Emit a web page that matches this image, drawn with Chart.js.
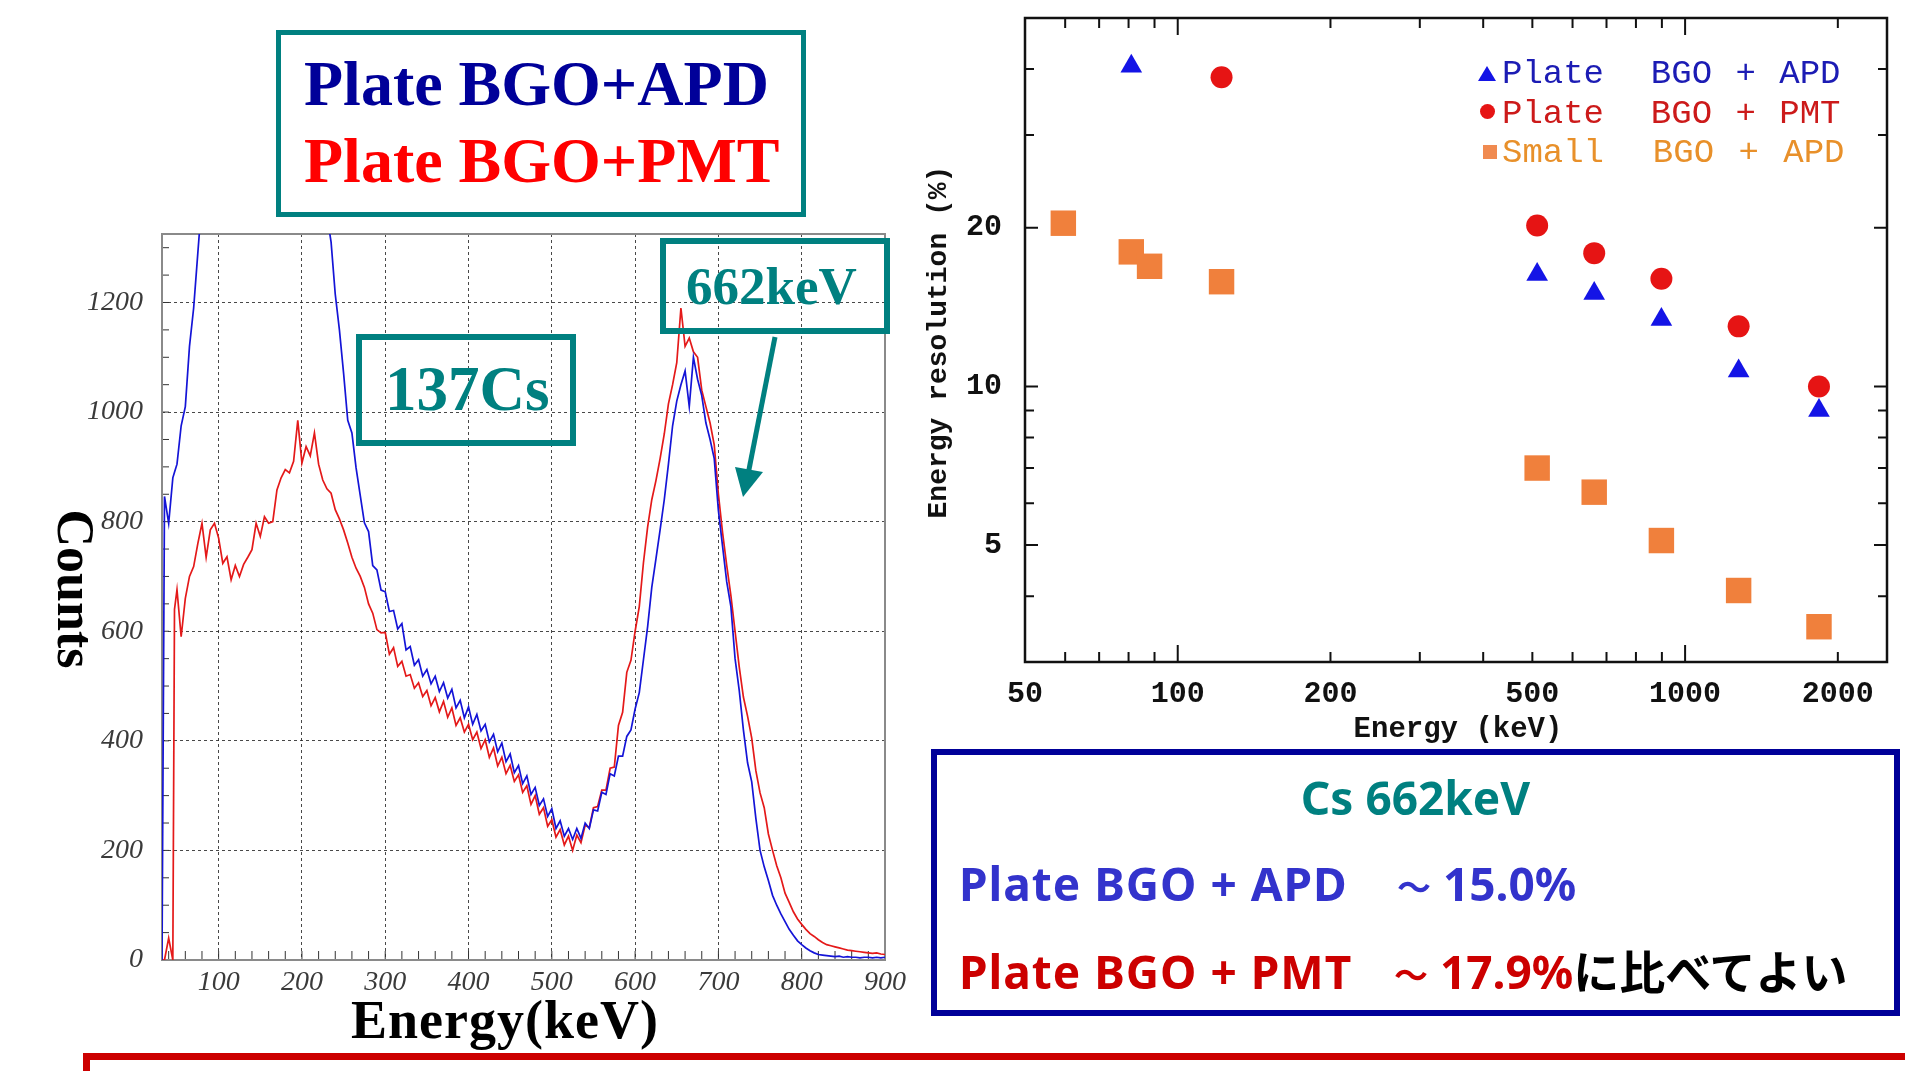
<!DOCTYPE html>
<html><head><meta charset="utf-8">
<script src="https://cdn.jsdelivr.net/npm/chart.js@4.4.1/dist/chart.umd.min.js"></script>
<style>
html,body{margin:0;padding:0;background:#fff;}
body{width:1905px;height:1071px;overflow:hidden;position:relative;}
.abs{position:absolute;white-space:nowrap;}
.pre{position:absolute;white-space:pre;}
.box{position:absolute;box-sizing:border-box;}
.tl{font-size:34px;vertical-align:1px;margin-right:12px;}
</style></head><body>
<div class="abs" style="left:60px;top:200px;width:880px;height:830px;"><canvas id="spec"></canvas></div>
<div class="abs" style="left:940px;top:0px;width:965px;height:740px;"><canvas id="res"></canvas></div>

<!-- left title box -->
<div class="box" style="left:276px;top:30px;width:530px;height:187px;border:5px solid #008080;"></div>
<div class="abs" style="left:304px;top:52px;font:bold 64px/64px 'Liberation Serif';color:#000099;">Plate BGO+APD</div>
<div class="abs" style="left:304px;top:129px;font:bold 64px/64px 'Liberation Serif';color:#ff0000;">Plate BGO+PMT</div>

<!-- 137Cs box -->
<div class="box" style="left:356px;top:334px;width:220px;height:112px;border:6px solid #008080;"></div>
<div class="abs" style="left:385px;top:358px;font:bold 63px/63px 'Liberation Serif';color:#008080;">137Cs</div>

<!-- 662keV box -->
<div class="box" style="left:660px;top:238px;width:230px;height:96px;border:6px solid #008080;"></div>
<div class="abs" style="left:686px;top:260px;font:bold 53px/53px 'Liberation Serif';color:#008080;">662keV</div>

<svg class="abs" style="left:0;top:0;pointer-events:none" width="1905" height="1071">
<line x1="775" y1="337" x2="748.5" y2="472" stroke="#008080" stroke-width="5"/>
<polygon points="743,497 763,472 735,467" fill="#008080"/>
</svg>

<div class="abs" style="left:-5px;top:563px;width:160px;text-align:center;font:bold 52px/52px 'Liberation Serif';color:#000;transform:rotate(90deg);">Counts</div>
<div class="abs" style="left:305px;top:993px;width:400px;text-align:center;font:bold 54px/54px 'Liberation Serif';color:#000;letter-spacing:1px;">Energy(keV)</div>

<!-- right chart titles & legend -->
<div class="abs" style="left:739px;top:328px;width:400px;text-align:center;font:bold 28px/28px 'Liberation Mono';color:#111;transform:rotate(-90deg);">Energy resolution (%)</div>
<div class="abs" style="left:1258px;top:715px;width:400px;text-align:center;font:bold 29px/29px 'Liberation Mono';color:#111;">Energy (keV)</div>

<div class="abs" style="left:1478px;top:66px;width:0;height:0;border-left:9px solid transparent;border-right:9px solid transparent;border-bottom:15px solid #1414e6;"></div>
<div class="abs" style="left:1480px;top:104px;width:15px;height:15px;border-radius:50%;background:#e61414;"></div>
<div class="abs" style="left:1483px;top:145px;width:14px;height:14px;background:#f08a50;"></div>
<div class="pre" style="left:1502px;top:57px;font:34px/34px 'Liberation Mono';word-spacing:3px;color:#1c1cb4;">Plate  BGO + APD</div>
<div class="pre" style="left:1502px;top:97px;font:34px/34px 'Liberation Mono';word-spacing:3px;color:#cc1a1a;">Plate  BGO + PMT</div>
<div class="pre" style="left:1502px;top:136px;font:34px/34px 'Liberation Mono';word-spacing:4px;color:#e8902a;">Small  BGO + APD</div>

<!-- bottom right summary box -->
<div class="box" style="left:931px;top:749px;width:969px;height:267px;border:6px solid #000099;"></div>
<div class="abs" style="left:931px;width:969px;top:774px;text-align:center;font:bold 46px/46px 'Noto Sans';color:#008080;">Cs 662keV</div>
<div class="abs" style="left:959px;top:860px;font:bold 46px/46px 'Noto Sans','Noto Sans CJK JP';color:#3333cc;"><span style="display:inline-block;width:438px;letter-spacing:1px;">Plate BGO + APD</span><span class="tl">～</span>15.0%</div>
<div class="abs" style="left:959px;top:946px;font:bold 46px/46px 'Noto Sans','Noto Sans CJK JP';color:#cc0000;"><span style="display:inline-block;width:435px;letter-spacing:1px;">Plate BGO + PMT</span><span class="tl">～</span>17.9%<span style="color:#000;font-family:'Noto Sans CJK JP';">に比べてよい</span></div>

<!-- bottom red frame -->
<div class="box" style="left:83px;top:1053px;width:2000px;height:200px;border:7px solid #cc0000;"></div>

<script>
// ---------- Left chart: 137Cs spectra ----------
const energyKeV = [32,35,40,45,47,
50,55,60,65,70,75,80,85,90,95,
100,105,110,115,120,125,130,135,140,145,
150,155,160,165,170,175,180,185,190,195,
200,205,210,215,220,225,230,235,240,245,
250,255,260,265,270,275,280,285,290,295,
300,305,310,315,320,325,330,335,340,345,
350,355,360,365,370,375,380,385,390,395,
400,405,410,415,420,425,430,435,440,445,
450,455,460,465,470,475,480,485,490,495,
500,505,510,515,520,525,530,535,540,545,
550,555,560,565,570,575,580,585,590,595,
600,605,610,615,620,625,630,635,640,645,
650,655,660,665,670,675,680,685,690,695,
700,705,710,715,720,725,730,735,740,745,
750,755,760,765,770,775,780,785,790,795,
800,805,810,815,820,825,830,835,840,845,
850,855,860,865,870,875,880,885,890,895,
900];
const countsAPD = [0,846,797,880,890,
905,975,1010,1120,1190,1290,1390,1520,1650,1780,
1900,1980,2050,2100,2140,2160,2170,2160,2140,2110,
2080,2040,2000,1960,1910,1860,1810,1760,1710,1660,
1620,1580,1540,1500,1450,1400,1360,1310,1215,1150,
1071,985,962,898,848,798,782,720,712,675,
672,636,638,604,614,566,572,538,548,518,
530,504,518,490,506,478,494,460,474,442,
462,430,448,418,430,398,412,380,396,362,
376,342,355,322,336,302,315,282,294,262,
276,240,254,226,240,220,240,222,250,240,
274,272,306,302,340,336,372,372,408,420,
458,488,548,608,680,732,785,840,905,975,
1020,1050,1075,1010,1100,1060,1030,980,950,915,
820,755,690,645,550,492,420,360,325,258,
200,170,145,118,100,84,70,56,45,35,
28,22,17,13,10,9,8,7,6,7,
5,6,5,5,4,5,5,4,5,4,
5];
const countsPMT = [0,0,40,0,640,
676,590,660,700,718,760,797,735,785,797,
770,724,736,694,720,700,722,735,749,797,
773,809,797,800,858,880,895,889,910,985,
907,937,920,962,905,876,860,852,822,805,
785,761,735,715,700,680,650,633,603,597,
598,558,570,536,545,518,521,496,506,481,
492,464,479,453,472,443,460,428,442,416,
430,402,416,386,402,370,387,354,370,340,
355,326,338,306,318,284,300,266,278,244,
256,224,238,210,226,200,228,214,246,242,
278,280,310,310,350,352,428,452,525,547,
600,645,725,790,840,875,915,960,1015,1050,
1090,1190,1120,1135,1110,1100,1040,1010,980,940,
850,780,720,665,600,535,480,445,405,345,
305,278,230,200,172,150,122,105,88,75,
65,56,48,43,37,32,28,26,24,22,
20,18,17,16,15,14,13,12,13,11,
10];
const energyTicks = [100,200,300,400,500,600,700,800,900];
const countTicks = [0,200,400,600,800,1000,1200];
const energyMinorTicks = [40,60,80,100,120,140,160,180,200,220,240,260,280,300,320,340,360,380,400,420,440,460,480,500,520,540,560,580,600,620,640,660,680,700,720,740,760,780,800,820,840,860,880];
const countMinorTicks = [50,100,150,200,250,300,350,400,450,500,550,600,650,700,750,800,850,900,950,1000,1050,1100,1150,1200,1250,1300];

// ---------- Right chart: energy resolution ----------
const apdEnergy = [81,511,662,898,1275,1836];
const apdRes = [40.5,16.3,15.0,13.4,10.7,9.0];
const pmtEnergy = [122,511,662,898,1275,1836];
const pmtRes = [38.6,20.2,17.9,16.0,13.0,10.0];
const smallEnergy = [59.5,81,88,122,511,662,898,1275,1836];
const smallRes = [20.4,18.0,16.9,15.8,7.0,6.3,5.1,4.1,3.5];
const resEnergyTicks = [50,100,200,500,1000,2000];
const resTicks = [5,10,20];
const resEnergyMinor = [60,70,80,90,200,300,400,500,600,700,800,900,2000];
const resEnergyMajor = [100,1000];
const resMinor = [4,6,7,8,9,30,40];
const resMajor = [5,10,20];

Chart.defaults.animation = false;

const noPad = s => { s.paddingTop = 0; s.paddingBottom = 0; s.paddingLeft = 0; s.paddingRight = 0; };

const specDecor = {
  id: 'specDecor',
  beforeDatasetsDraw(chart) {
    const {ctx, chartArea: a, scales: {x, y}} = chart;
    ctx.save();
    ctx.strokeStyle = '#333'; ctx.lineWidth = 1;
    ctx.beginPath();
    countMinorTicks.forEach(v => { const py = y.getPixelForValue(v); if (py < a.top) return; ctx.moveTo(a.left, py); ctx.lineTo(a.left + 7, py); });
    energyMinorTicks.forEach(v => { const px = x.getPixelForValue(v); ctx.moveTo(px, a.bottom); ctx.lineTo(px, a.bottom - 9); });
    ctx.stroke();
    ctx.lineWidth = 2; ctx.strokeStyle = '#8a8a8a';
    ctx.strokeRect(a.left, a.top, a.right - a.left, a.bottom - a.top);
    ctx.restore();
  }
};

new Chart(document.getElementById('spec'), {
  type: 'line',
  data: {
    datasets: [
      {label: 'Plate BGO+APD', data: energyKeV.map((e, i) => ({x: e, y: countsAPD[i]})), borderColor: 'rgb(20,20,215)', borderWidth: 1.7, pointRadius: 0, tension: 0},
      {label: 'Plate BGO+PMT', data: energyKeV.map((e, i) => ({x: e, y: countsPMT[i]})), borderColor: 'rgb(228,25,25)', borderWidth: 1.7, pointRadius: 0, tension: 0}
    ]
  },
  options: {
    responsive: true, maintainAspectRatio: false,
    layout: {padding: {top: 34, right: 55, left: 0, bottom: 0}},
    plugins: {legend: {display: false}, tooltip: {enabled: false}},
    scales: {
      x: {type: 'linear', min: 32, max: 900,
        afterBuildTicks: s => { s.ticks = energyTicks.map(v => ({value: v})); },
        afterFit: s => { s.height = 70; noPad(s); },
        grid: {color: 'rgba(40,40,40,0.85)', lineWidth: 1, drawTicks: false},
        border: {display: false, dash: [3, 3]},
        ticks: {callback: v => String(v), padding: 6, autoSkip: false, maxRotation: 0, color: '#3a3a3a', font: {family: 'Liberation Serif', style: 'italic', size: 28}}
      },
      y: {min: 0, max: 1325,
        afterBuildTicks: s => { s.ticks = countTicks.map(v => ({value: v})); },
        afterFit: s => { s.width = 102; noPad(s); },
        grid: {color: 'rgba(40,40,40,0.85)', lineWidth: 1, drawTicks: false},
        border: {display: false, dash: [3, 3]},
        ticks: {callback: v => String(v), padding: 19, autoSkip: false, color: '#3a3a3a', font: {family: 'Liberation Serif', style: 'italic', size: 28}}
      }
    }
  },
  plugins: [specDecor]
});

const resDecor = {
  id: 'resDecor',
  beforeDatasetsDraw(chart) {
    const {ctx, chartArea: a, scales: {x, y}} = chart;
    ctx.save();
    ctx.strokeStyle = '#111'; ctx.lineWidth = 2;
    ctx.beginPath();
    const xt = (list, len) => list.forEach(v => { const px = x.getPixelForValue(v); ctx.moveTo(px, a.bottom); ctx.lineTo(px, a.bottom - len); ctx.moveTo(px, a.top); ctx.lineTo(px, a.top + len); });
    const yt = (list, len) => list.forEach(v => { const py = y.getPixelForValue(v); ctx.moveTo(a.left, py); ctx.lineTo(a.left + len, py); ctx.moveTo(a.right, py); ctx.lineTo(a.right - len, py); });
    xt(resEnergyMinor, 10); xt(resEnergyMajor, 17);
    yt(resMinor, 9); yt(resMajor, 13);
    ctx.stroke();
    ctx.lineWidth = 2.5;
    ctx.strokeRect(a.left, a.top, a.right - a.left, a.bottom - a.top);
    ctx.restore();
  }
};

new Chart(document.getElementById('res'), {
  type: 'scatter',
  data: {
    datasets: [
      {label: 'Plate BGO + APD', data: apdEnergy.map((e, i) => ({x: e, y: apdRes[i]})), pointStyle: 'triangle', pointRadius: 12.5, backgroundColor: '#1414e6', borderColor: '#1414e6', borderWidth: 0},
      {label: 'Plate BGO + PMT', data: pmtEnergy.map((e, i) => ({x: e, y: pmtRes[i]})), pointStyle: 'circle', pointRadius: 11, backgroundColor: '#e61414', borderColor: '#e61414', borderWidth: 0},
      {label: 'Small BGO + APD', data: smallEnergy.map((e, i) => ({x: e, y: smallRes[i]})), pointStyle: 'rect', pointRadius: 18, backgroundColor: '#f0803c', borderColor: '#f0803c', borderWidth: 0}
    ]
  },
  options: {
    responsive: true, maintainAspectRatio: false,
    layout: {padding: {top: 18, right: 15, left: 0, bottom: 0}},
    plugins: {legend: {display: false}, tooltip: {enabled: false}},
    scales: {
      x: {type: 'logarithmic', min: 50, max: 2500,
        afterBuildTicks: s => { s.ticks = resEnergyTicks.map(v => ({value: v})); },
        afterFit: s => { s.height = 78; noPad(s); },
        grid: {display: false, drawTicks: false},
        border: {display: false},
        ticks: {callback: v => String(v), padding: 14, autoSkip: false, maxRotation: 0, color: '#111', font: {family: 'Liberation Mono', weight: 'bold', size: 30}}
      },
      y: {type: 'logarithmic', min: 3, max: 50,
        afterBuildTicks: s => { s.ticks = resTicks.map(v => ({value: v})); },
        afterFit: s => { s.width = 85; noPad(s); },
        grid: {display: false, drawTicks: false},
        border: {display: false},
        ticks: {callback: v => String(v), padding: 23, autoSkip: false, color: '#111', font: {family: 'Liberation Mono', weight: 'bold', size: 30}}
      }
    }
  },
  plugins: [resDecor]
});
</script>
</body></html>
